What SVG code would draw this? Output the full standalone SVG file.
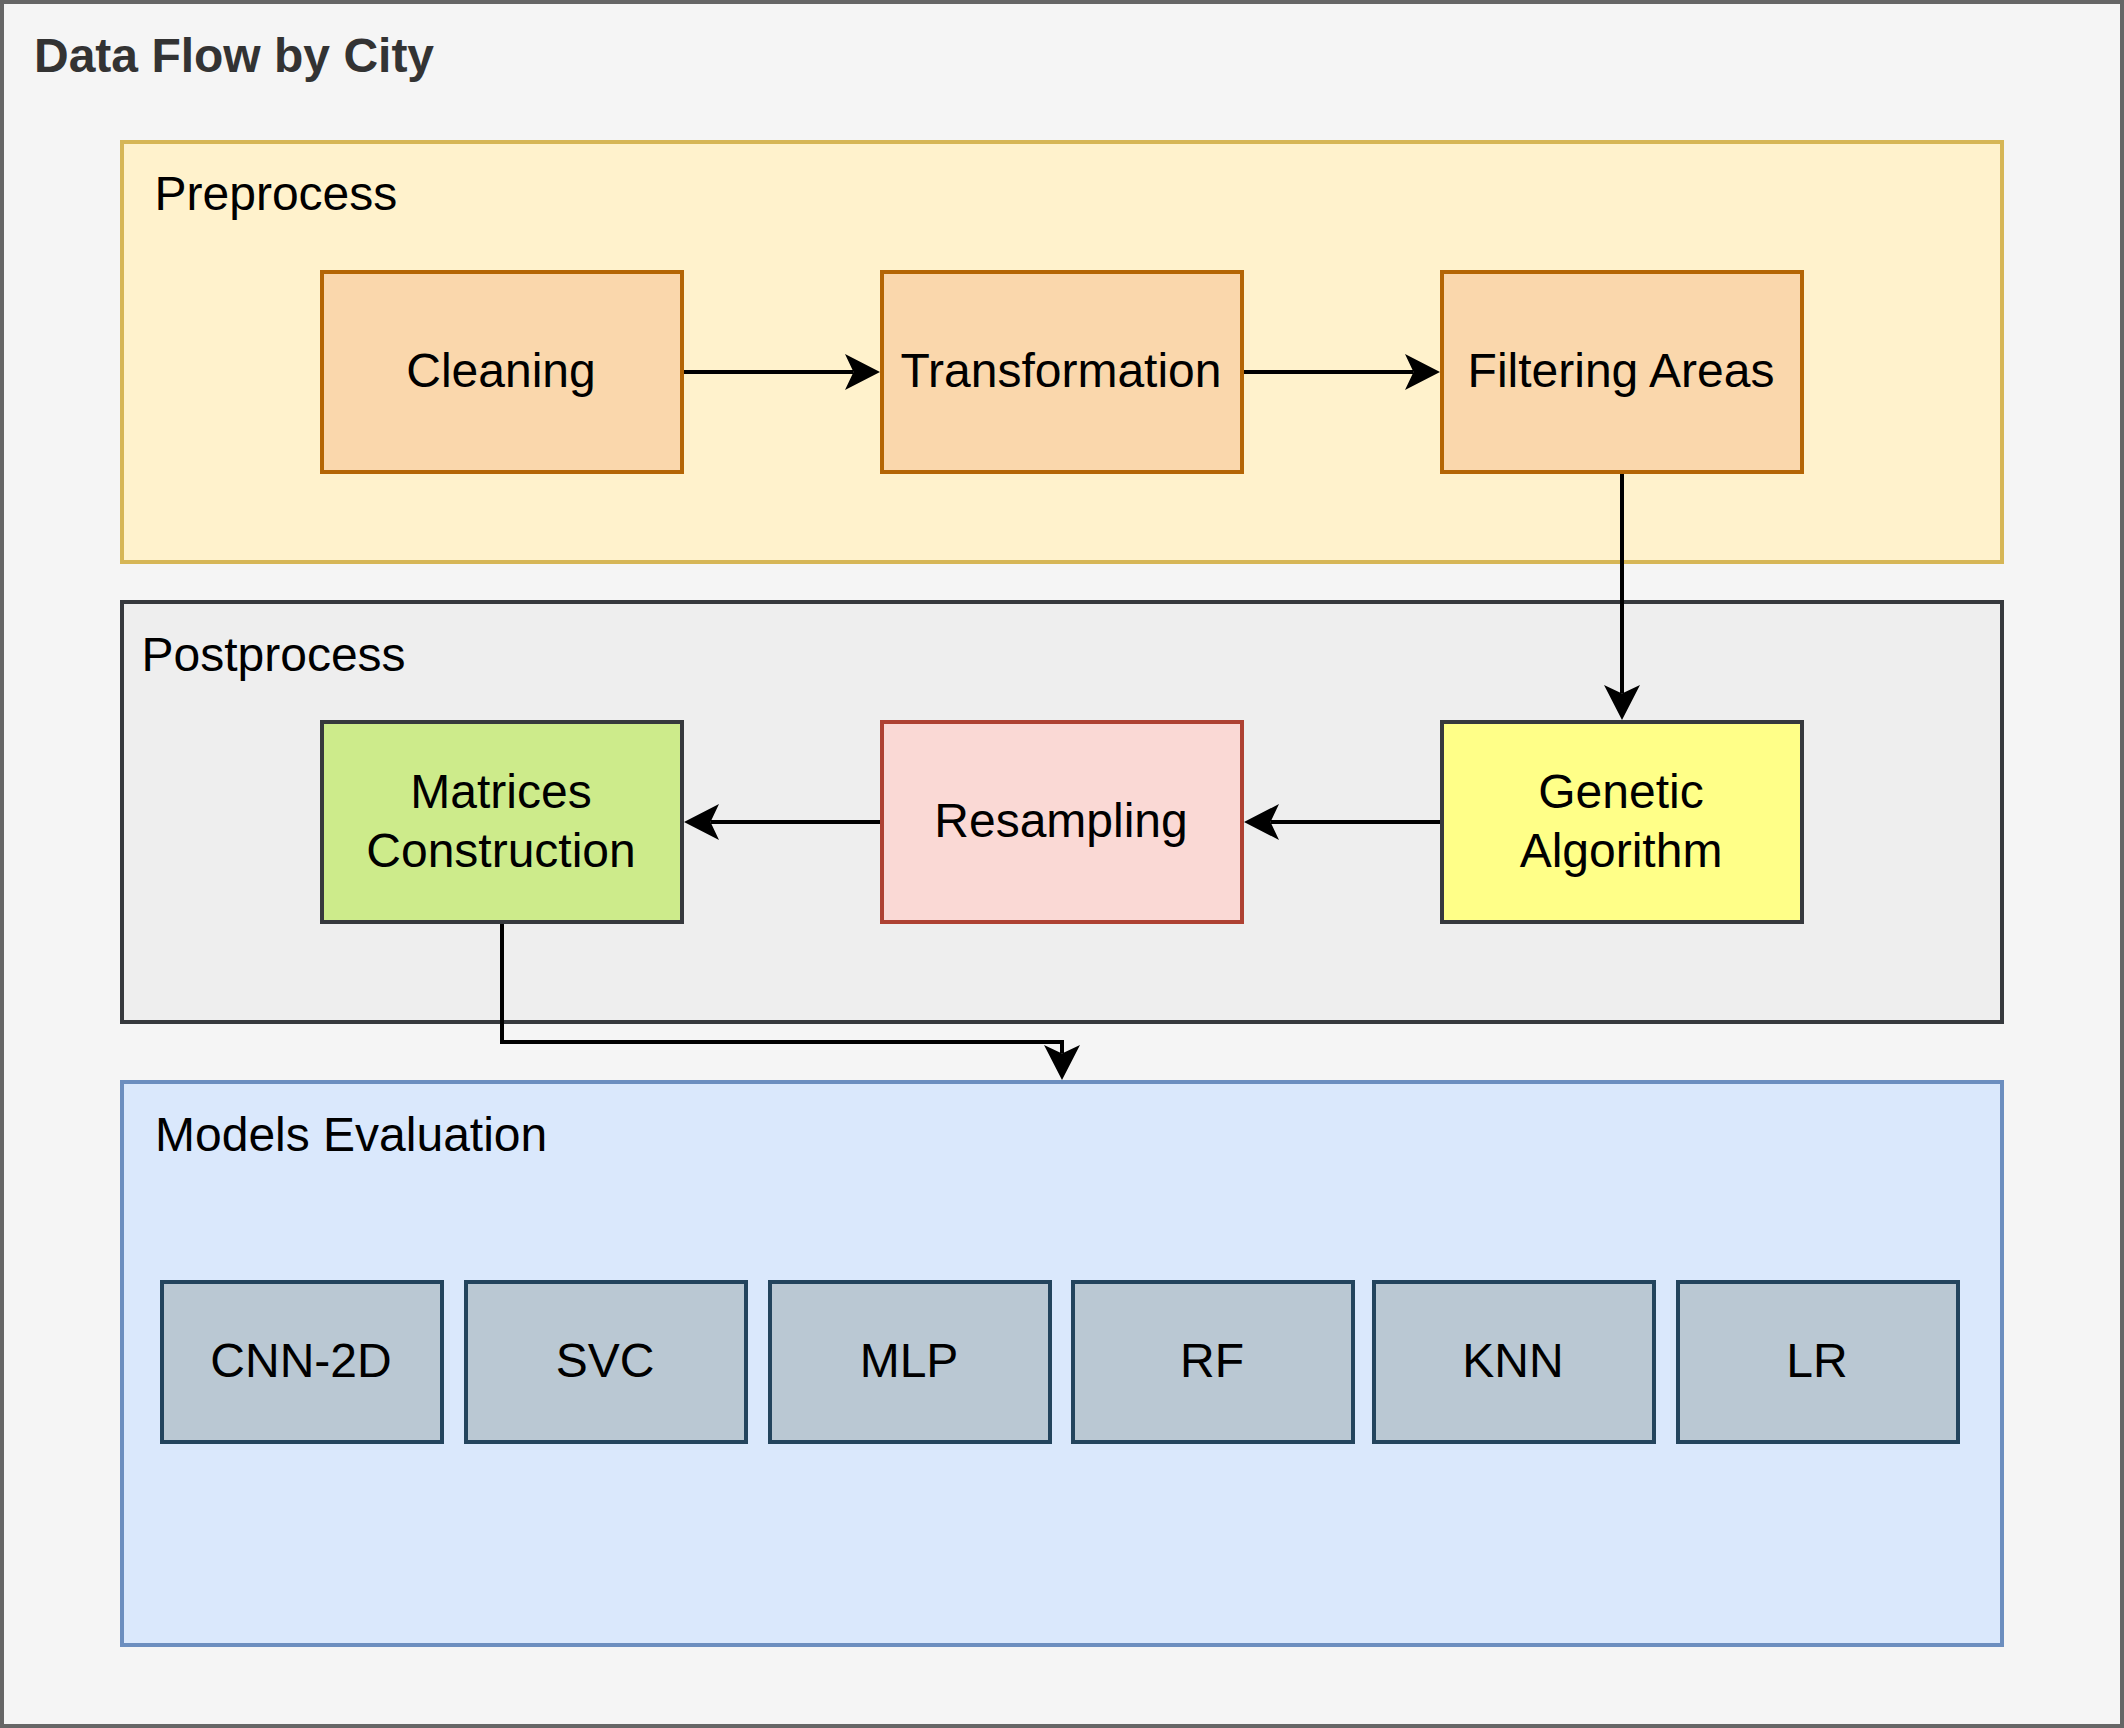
<svg xmlns="http://www.w3.org/2000/svg" width="2124" height="1728" viewBox="0 0 2124 1728">
  <style>
    text { font-family: "Liberation Sans", Arial, sans-serif; font-size: 48px; fill: #000000; }
    .title { font-weight: bold; fill: #333333; }
    .c { text-anchor: middle; }
    .box { stroke-width: 4; }
    .orange { fill: #fad7ac; stroke: #b46504; }
    .model { fill: #bac8d3; stroke: #23445d; }
    .edge { fill: none; stroke: #000000; stroke-width: 4; stroke-linejoin: miter; marker-end: url(#arr); }
  </style>
  <defs>
    <marker id="arr" viewBox="0 0 35 36" markerWidth="35" markerHeight="36" markerUnits="userSpaceOnUse" refX="8.5" refY="18" orient="auto">
      <path d="M0,0 L35,18 L0,36 L8.5,18 Z" fill="#000000"/>
    </marker>
  </defs>

  <g id="frame">
    <rect x="2" y="2" width="2120" height="1724" fill="#f5f5f5" stroke="#666666" stroke-width="4"/>
    <text class="title" x="34" y="72">Data Flow by City</text>
  </g>

  <g id="preprocess">
    <rect class="box" x="122" y="142" width="1880" height="420" fill="#fff2cc" stroke="#d6b656"/>
    <text x="154.5" y="210">Preprocess</text>
  </g>
  <g id="postprocess">
    <rect class="box" x="122" y="602" width="1880" height="420" fill="#eeeeee" stroke="#36393d"/>
    <text x="141.5" y="671">Postprocess</text>
  </g>
  <g id="models-evaluation">
    <rect class="box" x="122" y="1082" width="1880" height="563" fill="#dae8fc" stroke="#6c8ebf"/>
    <text x="155" y="1151">Models Evaluation</text>
  </g>

  <g id="cleaning">
    <rect class="box orange" x="322" y="272" width="360" height="200"/>
    <text class="c" x="501" y="387">Cleaning</text>
  </g>
  <g id="transformation">
    <rect class="box orange" x="882" y="272" width="360" height="200"/>
    <text class="c" x="1061" y="387">Transformation</text>
  </g>
  <g id="filtering-areas">
    <rect class="box orange" x="1442" y="272" width="360" height="200"/>
    <text class="c" x="1621" y="387">Filtering Areas</text>
  </g>

  <g id="matrices-construction">
    <rect class="box" x="322" y="722" width="360" height="200" fill="#cdeb8b" stroke="#36393d"/>
    <text class="c" x="501" y="807.5">Matrices</text>
    <text class="c" x="501" y="867">Construction</text>
  </g>
  <g id="resampling">
    <rect class="box" x="882" y="722" width="360" height="200" fill="#fad9d5" stroke="#ae4132"/>
    <text class="c" x="1061" y="837">Resampling</text>
  </g>
  <g id="genetic-algorithm">
    <rect class="box" x="1442" y="722" width="360" height="200" fill="#ffff88" stroke="#36393d"/>
    <text class="c" x="1621" y="807.5">Genetic</text>
    <text class="c" x="1621" y="867">Algorithm</text>
  </g>

  <g id="cnn-2d">
    <rect class="box model" x="162" y="1282" width="280" height="160"/>
    <text class="c" x="301" y="1376.5">CNN-2D</text>
  </g>
  <g id="svc">
    <rect class="box model" x="466" y="1282" width="280" height="160"/>
    <text class="c" x="605" y="1376.5">SVC</text>
  </g>
  <g id="mlp">
    <rect class="box model" x="770" y="1282" width="280" height="160"/>
    <text class="c" x="909" y="1376.5">MLP</text>
  </g>
  <g id="rf">
    <rect class="box model" x="1073" y="1282" width="280" height="160"/>
    <text class="c" x="1212" y="1376.5">RF</text>
  </g>
  <g id="knn">
    <rect class="box model" x="1374" y="1282" width="280" height="160"/>
    <text class="c" x="1513" y="1376.5">KNN</text>
  </g>
  <g id="lr">
    <rect class="box model" x="1678" y="1282" width="280" height="160"/>
    <text class="c" x="1817" y="1376.5">LR</text>
  </g>

  <g id="connectors">
    <path class="edge" d="M684,372 H853.5"/>
    <path class="edge" d="M1244,372 H1413.5"/>
    <path class="edge" d="M1622,474 V693.5"/>
    <path class="edge" d="M1440,822 H1270.5"/>
    <path class="edge" d="M880,822 H710.5"/>
    <path class="edge" d="M502,924 V1042 H1062 V1053.5"/>
  </g>
</svg>
